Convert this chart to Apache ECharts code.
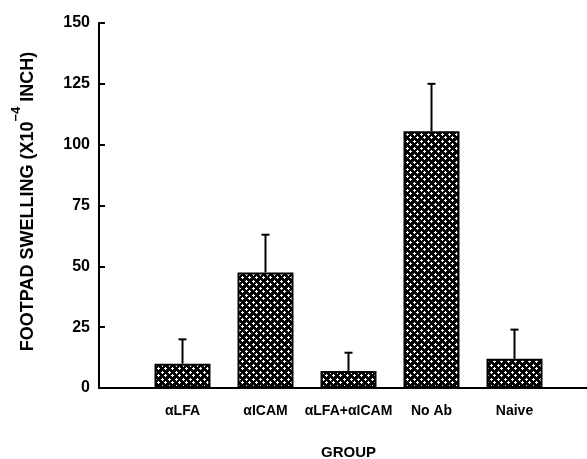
<!DOCTYPE html>
<html>
<head>
<meta charset="utf-8">
<script src="https://cdn.jsdelivr.net/npm/echarts@6/dist/echarts.min.js"></script>
<style>
html,body{margin:0;padding:0;background:#fff;}
#chart{width:587px;height:459px;}
</style>
</head>
<body>
<div id="chart"></div>
<script>
const categories = ['\u03b1LFA', '\u03b1ICAM', '\u03b1LFA+\u03b1ICAM', 'No Ab', 'Naive'];
const means = [10, 47.5, 7, 105.5, 12];
const errorTops = [20, 63, 14.5, 125, 24];
const yTicks = [0, 25, 50, 75, 100, 125, 150];

// dotted pattern fill (white crosses on black, staggered)
const pc = document.createElement('canvas');
pc.width = 7; pc.height = 7;
const ctx = pc.getContext('2d');
ctx.fillStyle = '#000'; ctx.fillRect(0, 0, 7, 7);
ctx.fillStyle = '#fff';
function dot(x, y) { ctx.fillRect(x, y + 1, 3, 1); ctx.fillRect(x + 1, y, 1, 3); }
dot(0, 0);
dot(3, 3);
dot(-4, 3); dot(3, -4); dot(-4, -4);

const FONT = 'Liberation Sans';
const chart = echarts.init(document.getElementById('chart'), null, {renderer: 'canvas'});
chart.setOption({
  backgroundColor: '#fff',
  animation: false,
  grid: [
    {left: 141, width: 415, top: 23, bottom: 71, containLabel: false, outerBoundsMode: 'none'},
    {left: 99, right: 0, top: 23, bottom: 71, containLabel: false, outerBoundsMode: 'none'}
  ],
  xAxis: [
    {
      type: 'category', gridIndex: 0, data: categories,
      axisLine: {show: false}, axisTick: {show: false},
      axisLabel: {interval: 0, color: '#000', fontFamily: FONT, fontWeight: 'bold', fontSize: 14, margin: 16},
      name: 'GROUP', nameLocation: 'middle', nameGap: 57,
      nameTextStyle: {color: '#000', fontFamily: FONT, fontWeight: 'bold', fontSize: 15}
    },
    {
      type: 'value', gridIndex: 1, min: 0, max: 1,
      axisLine: {show: true, lineStyle: {color: '#000', width: 2}},
      axisTick: {show: false}, axisLabel: {show: false}, splitLine: {show: false}
    }
  ],
  yAxis: [
    {type: 'value', gridIndex: 0, min: 0, max: 150, show: false},
    {
      type: 'value', gridIndex: 1, min: 0, max: 150, interval: 25,
      axisLine: {show: true, lineStyle: {color: '#000', width: 2}},
      axisTick: {show: true, inside: true, length: 6, lineStyle: {color: '#000', width: 2}},
      axisLabel: {color: '#000', fontFamily: FONT, fontWeight: 'bold', fontSize: 16, margin: 9,
        formatter: function (v) { return yTicks.indexOf(v) >= 0 ? String(v) : ''; }},
      splitLine: {show: false},
      name: '{a|FOOTPAD SWELLING (X10}{s|\u22124}{a| INCH)}',
      nameLocation: 'middle', nameRotate: 90, nameGap: 62,
      nameTextStyle: {
        padding: [0, 0, 0, 8],
        rich: {
          a: {color: '#000', fontFamily: FONT, fontWeight: 'bold', fontSize: 18, lineHeight: 27, verticalAlign: 'bottom'},
          s: {color: '#000', fontFamily: FONT, fontWeight: 'bold', fontSize: 13, lineHeight: 27, verticalAlign: 'top'}
        }
      }
    }
  ],
  series: [
    {
      type: 'bar', xAxisIndex: 0, yAxisIndex: 0,
      data: means, barWidth: 56,
      itemStyle: {color: {image: pc, repeat: 'repeat'}, borderColor: '#000', borderWidth: 2},
      z: 2
    },
    {
      type: 'custom', xAxisIndex: 0, yAxisIndex: 0,
      data: means.map((m, i) => [i, m, errorTops[i]]),
      renderItem: function (params, api) {
        const base = api.coord([api.value(0), api.value(1)]);
        const top = api.coord([api.value(0), api.value(2)]);
        return {
          type: 'group',
          children: [
            {type: 'line', shape: {x1: base[0], y1: base[1], x2: top[0], y2: top[1]}, style: {stroke: '#000', lineWidth: 2}},
            {type: 'line', shape: {x1: top[0] - 4, y1: top[1], x2: top[0] + 4, y2: top[1]}, style: {stroke: '#000', lineWidth: 2}}
          ]
        };
      },
      z: 3
    }
  ]
});
</script>
</body>
</html>
